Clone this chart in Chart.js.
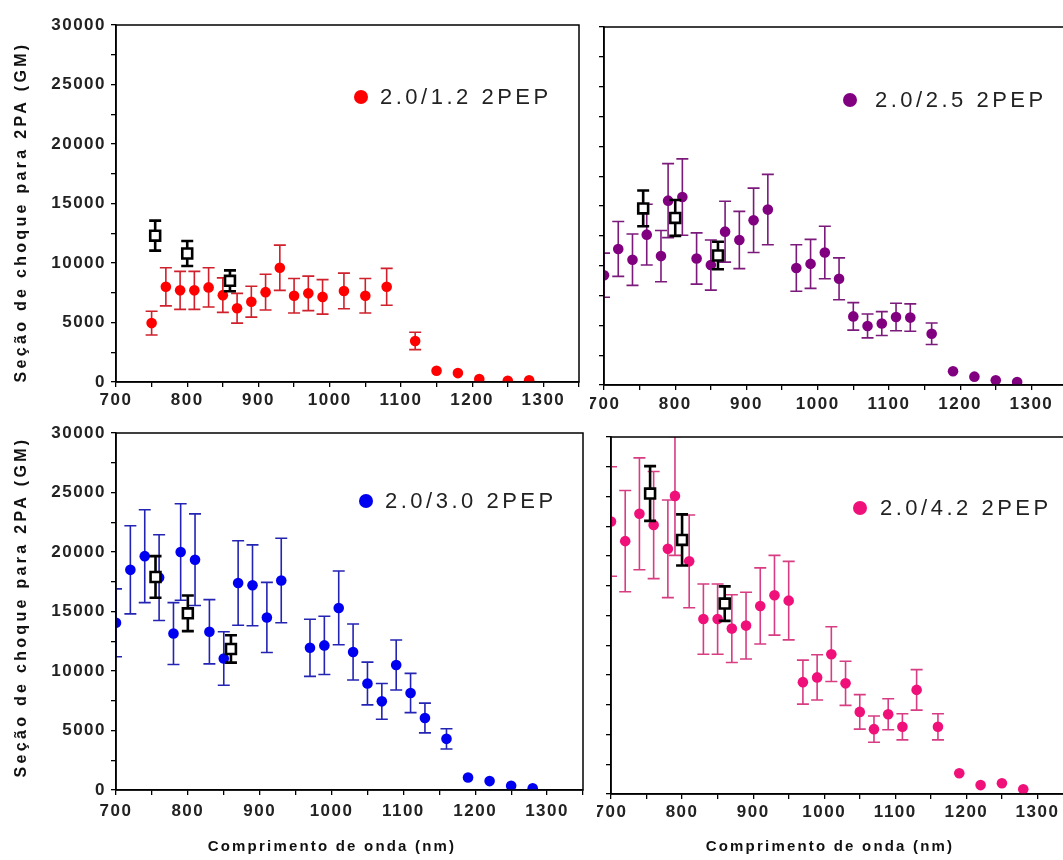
<!DOCTYPE html>
<html>
<head>
<meta charset="utf-8">
<script src="https://cdn.jsdelivr.net/npm/chart.js@4.4.0/dist/chart.umd.min.js"></script>
<style>
  html, body { margin: 0; padding: 0; background: #fff; }
  body { width: 1063px; height: 860px; overflow: hidden; position: relative; }
  canvas { position: absolute; }
</style>
</head>
<body>
<canvas id="chart-a" width="595" height="425" style="left:0px;top:0px"></canvas>
<canvas id="chart-b" width="500" height="425" style="left:590px;top:0px"></canvas>
<canvas id="chart-c" width="600" height="450" style="left:0px;top:410px"></canvas>
<canvas id="chart-d" width="500" height="450" style="left:597px;top:410px"></canvas>
<script>
// tick labels
const x_ticks = [700, 800, 900, 1000, 1100, 1200, 1300]
const y_ticks = [0, 5000, 10000, 15000, 20000, 25000, 30000]
const legend_labels = ['2.0/1.2 2PEP', '2.0/2.5 2PEP', '2.0/3.0 2PEP', '2.0/4.2 2PEP']
const y_title = 'Seção de choque para 2PA (GM)'
const x_title = 'Comprimento de onda (nm)'

// 2.0/1.2
const wl_a = [750, 770, 790, 810, 830, 850, 870, 890, 910, 930, 950, 970, 990, 1020, 1050, 1080, 1120, 1150, 1180, 1210, 1250, 1280]
const gm_a = [4950, 8000, 7700, 7700, 7950, 7300, 6200, 6750, 7550, 9600, 7250, 7450, 7150, 7650, 7250, 8000, 3450, 950, 750, 250, 100, 150]
const err_a = [1000, 1600, 1600, 1600, 1650, 1450, 1250, 1300, 1500, 1900, 1450, 1450, 1450, 1500, 1450, 1550, 730, 0, 0, 0, 0, 0]

// 2.0/2.5
const wl_b = [700, 720, 740, 760, 780, 790, 810, 830, 850, 870, 890, 910, 930, 970, 990, 1010, 1030, 1050, 1070, 1090, 1110, 1130, 1160, 1190, 1220, 1250, 1280]
const gm_b = [9200, 11400, 10500, 12600, 10800, 15450, 15750, 10600, 10050, 12850, 12150, 13800, 14700, 9800, 10150, 11100, 8900, 5750, 4950, 5150, 5700, 5650, 4300, 1150, 700, 400, 250]
const err_b = [1850, 2300, 2150, 2550, 2150, 3100, 3200, 2150, 2100, 2550, 2400, 2700, 2950, 1950, 2050, 2200, 1750, 1150, 1000, 1000, 1150, 1150, 900, 0, 0, 0, 0]

// 2.0/3.0
const wl_c = [700, 720, 740, 760, 780, 790, 810, 830, 850, 870, 890, 910, 930, 970, 990, 1010, 1030, 1050, 1070, 1090, 1110, 1130, 1160, 1190, 1220, 1250, 1280]
const gm_c = [14050, 18500, 19650, 17850, 13150, 20000, 19350, 13300, 11050, 17400, 17200, 14500, 17600, 11950, 12150, 15300, 11600, 8950, 7450, 10500, 8150, 6050, 4300, 1050, 750, 350, 150]
const err_c = [2850, 3700, 3900, 3600, 2600, 4050, 3850, 2700, 2250, 3550, 3400, 2950, 3550, 2400, 2450, 3100, 2350, 1800, 1500, 2100, 1650, 1250, 850, 0, 0, 0, 0]

// 2.0/4.2
const wl_d = [700, 720, 740, 760, 780, 790, 810, 830, 850, 870, 890, 910, 930, 950, 970, 990, 1010, 1030, 1050, 1070, 1090, 1110, 1130, 1160, 1190, 1220, 1250, 1280]
const gm_d = [22900, 21250, 23550, 22600, 20600, 25050, 19550, 14700, 14700, 13900, 14150, 15800, 16700, 16250, 9400, 9800, 11750, 9300, 6900, 5450, 6700, 5650, 8750, 5650, 1750, 750, 900, 400]
const err_d = [4600, 4250, 4700, 4500, 4100, 5000, 3900, 2950, 2950, 2850, 2800, 3200, 3350, 3300, 1850, 1900, 2300, 1850, 1450, 1100, 1300, 1100, 1700, 1100, 0, 0, 0, 0]

// open squares (same three wavelengths in every panel)
const wl_ref = [755, 800, 860]
const gm_ref_a = [12300, 10800, 8500]
const err_ref_a = [1260, 1050, 880]
const gm_ref_b = [14800, 14000, 10850]
const err_ref_b = [1500, 1500, 1150]
const gm_ref_c = [17900, 14850, 11850]
const err_ref_c = [1750, 1500, 1150]
const gm_ref_d = [25250, 21350, 16000]
const err_ref_d = [2300, 2150, 1450]

const FONT = "'Liberation Sans', Arial, sans-serif"
const toPoints = (xs, ys) => xs.map((x, i) => ({ x: x, y: ys[i] }))

// vertical error bars, drawn just before each dataset
const errorBars = {
  id: 'errorBars',
  beforeDatasetDraw(chart, args) {
    const ds = chart.data.datasets[args.index]
    if (!ds.yErr) return
    const { ctx, chartArea: a, scales: { x, y } } = chart
    ctx.save()
    ctx.beginPath()
    ctx.rect(a.left, a.top, a.width, a.height)
    ctx.clip()
    ctx.strokeStyle = ds.errColor
    ctx.lineWidth = ds.errWidth
    ds.data.forEach((p, i) => {
      const e = ds.yErr[i]
      if (!e) return
      const px = x.getPixelForValue(p.x)
      const top = y.getPixelForValue(p.y + e)
      const bot = y.getPixelForValue(p.y - e)
      ctx.beginPath()
      ctx.moveTo(px, top)
      ctx.lineTo(px, bot)
      ctx.moveTo(px - ds.capHalf, top)
      ctx.lineTo(px + ds.capHalf, top)
      ctx.moveTo(px - ds.capHalf, bot)
      ctx.lineTo(px + ds.capHalf, bot)
      ctx.stroke()
    })
    ctx.restore()
  }
}

// box, legend and axis titles
const panelText = {
  id: 'panelText',
  beforeDraw(chart) {
    chart.ctx.letterSpacing = '1.5px'
  },
  afterDraw(chart, args, opts) {
    const { ctx, chartArea: a } = chart
    ctx.save()
    ctx.strokeStyle = '#000'
    ctx.lineWidth = 1.5
    ctx.strokeRect(a.left, a.top, a.width, a.height)

    const lg = opts.legend
    ctx.fillStyle = lg.color
    ctx.beginPath()
    ctx.arc(lg.x, lg.y, 7, 0, Math.PI * 2)
    ctx.fill()
    ctx.fillStyle = '#222'
    ctx.font = '22px ' + FONT
    ctx.letterSpacing = '3.5px'
    ctx.textAlign = 'left'
    ctx.textBaseline = 'middle'
    ctx.fillText(lg.text, lg.textX, lg.y + 1)

    ctx.fillStyle = '#111'
    ctx.font = 'bold 16px ' + FONT
    ctx.textAlign = 'center'
    if (opts.yTitle) {
      ctx.save()
      ctx.letterSpacing = '3.3px'
      ctx.translate(opts.yTitle.x, opts.yTitle.y)
      ctx.rotate(-Math.PI / 2)
      ctx.fillText(y_title, 0, 0)
      ctx.restore()
    }
    if (opts.xTitle) {
      ctx.font = 'bold 15px ' + FONT
      ctx.letterSpacing = '2.2px'
      ctx.fillText(x_title, opts.xTitle.x, opts.xTitle.y)
    }
    ctx.restore()
  }
}

const tickFont = { family: FONT, size: 17, weight: 'bold' }

const makePanel = (id, cfg) => {
  new Chart(document.getElementById(id), {
    type: 'scatter',
    data: {
      datasets: [
        {
          label: 'ref',
          data: toPoints(wl_ref, cfg.refGm),
          yErr: cfg.refErr,
          errColor: '#000',
          errWidth: 2.6,
          capHalf: 6,
          pointStyle: 'rect',
          pointRadius: 7,
          pointBackgroundColor: '#fff',
          pointBorderColor: '#000',
          pointBorderWidth: 2.6,
          clip: 0,
          order: 0
        },
        {
          label: cfg.label,
          data: toPoints(cfg.wl, cfg.gm),
          yErr: cfg.err,
          errColor: cfg.errColor,
          errWidth: 1.6,
          capHalf: 6,
          pointStyle: 'circle',
          pointRadius: 5.3,
          pointBackgroundColor: cfg.color,
          pointBorderWidth: 0,
          clip: 0,
          order: 1
        }
      ]
    },
    options: {
      responsive: false,
      animation: false,
      events: [],
      layout: { padding: cfg.pad },
      plugins: {
        legend: { display: false },
        tooltip: { enabled: false },
        panelText: {
          legend: { text: cfg.label, color: cfg.color, x: cfg.legendX, y: cfg.legendY, textX: cfg.legendTextX },
          yTitle: cfg.yTitle,
          xTitle: cfg.xTitle
        }
      },
      scales: {
        x: {
          type: 'linear',
          min: 700,
          max: 1350,
          border: { color: '#000', width: 1.5 },
          grid: { drawOnChartArea: false, color: '#000', tickLength: 5, lineWidth: 1.3 },
          ticks: {
            stepSize: 50,
            autoSkip: false,
            maxRotation: 0,
            padding: cfg.xPad,
            color: '#222',
            font: tickFont,
            callback: v => x_ticks.includes(v) ? String(v) : ''
          },
          afterFit: s => { s.height = cfg.xH; s.paddingLeft = 0; s.paddingRight = 0 }
        },
        y: {
          type: 'linear',
          min: 0,
          max: 30000,
          border: { color: '#000', width: 1.5 },
          grid: { drawOnChartArea: false, color: '#000', tickLength: 5, lineWidth: 1.3 },
          ticks: {
            stepSize: 2500,
            autoSkip: false,
            display: cfg.yLabels,
            padding: 5,
            color: '#222',
            font: tickFont,
            callback: v => y_ticks.includes(v) ? String(v) : ''
          },
          afterFit: s => { s.width = cfg.yW; s.paddingTop = 0; s.paddingBottom = 0 }
        }
      }
    },
    plugins: [errorBars, panelText]
  })
}

makePanel('chart-a', {
  label: legend_labels[0], wl: wl_a, gm: gm_a, err: err_a, refGm: gm_ref_a, refErr: err_ref_a,
  color: '#ff0000', errColor: '#d0202c',
  pad: { left: 0, top: 25, right: 16, bottom: 0 }, yW: 116, xH: 43, xPad: 3, yLabels: true,
  legendX: 361, legendY: 97, legendTextX: 380,
  yTitle: { x: 22, y: 212 }, xTitle: null
})

makePanel('chart-b', {
  label: legend_labels[1], wl: wl_b, gm: gm_b, err: err_b, refGm: gm_ref_b, refErr: err_ref_b,
  color: '#800080', errColor: '#7c1a7c',
  pad: { left: 0, top: 27, right: 23, bottom: 0 }, yW: 14, xH: 40, xPad: 4, yLabels: false,
  legendX: 260, legendY: 100, legendTextX: 285,
  yTitle: null, xTitle: null
})

makePanel('chart-c', {
  label: legend_labels[2], wl: wl_c, gm: gm_c, err: err_c, refGm: gm_ref_c, refErr: err_ref_c,
  color: '#0000f0', errColor: '#2424b4',
  pad: { left: 0, top: 23, right: 17, bottom: 0 }, yW: 116, xH: 70, xPad: 6, yLabels: true,
  legendX: 366, legendY: 91, legendTextX: 385,
  yTitle: { x: 22, y: 197 }, xTitle: { x: 332, y: 437 }
})

makePanel('chart-d', {
  label: legend_labels[3], wl: wl_d, gm: gm_d, err: err_d, refGm: gm_ref_d, refErr: err_ref_d,
  color: '#f0107a', errColor: '#d83c82',
  pad: { left: 0, top: 27, right: 24, bottom: 0 }, yW: 14, xH: 66, xPad: 3, yLabels: false,
  legendX: 263, legendY: 98, legendTextX: 283,
  yTitle: null, xTitle: { x: 233, y: 437 }
})
</script>
</body>
</html>
